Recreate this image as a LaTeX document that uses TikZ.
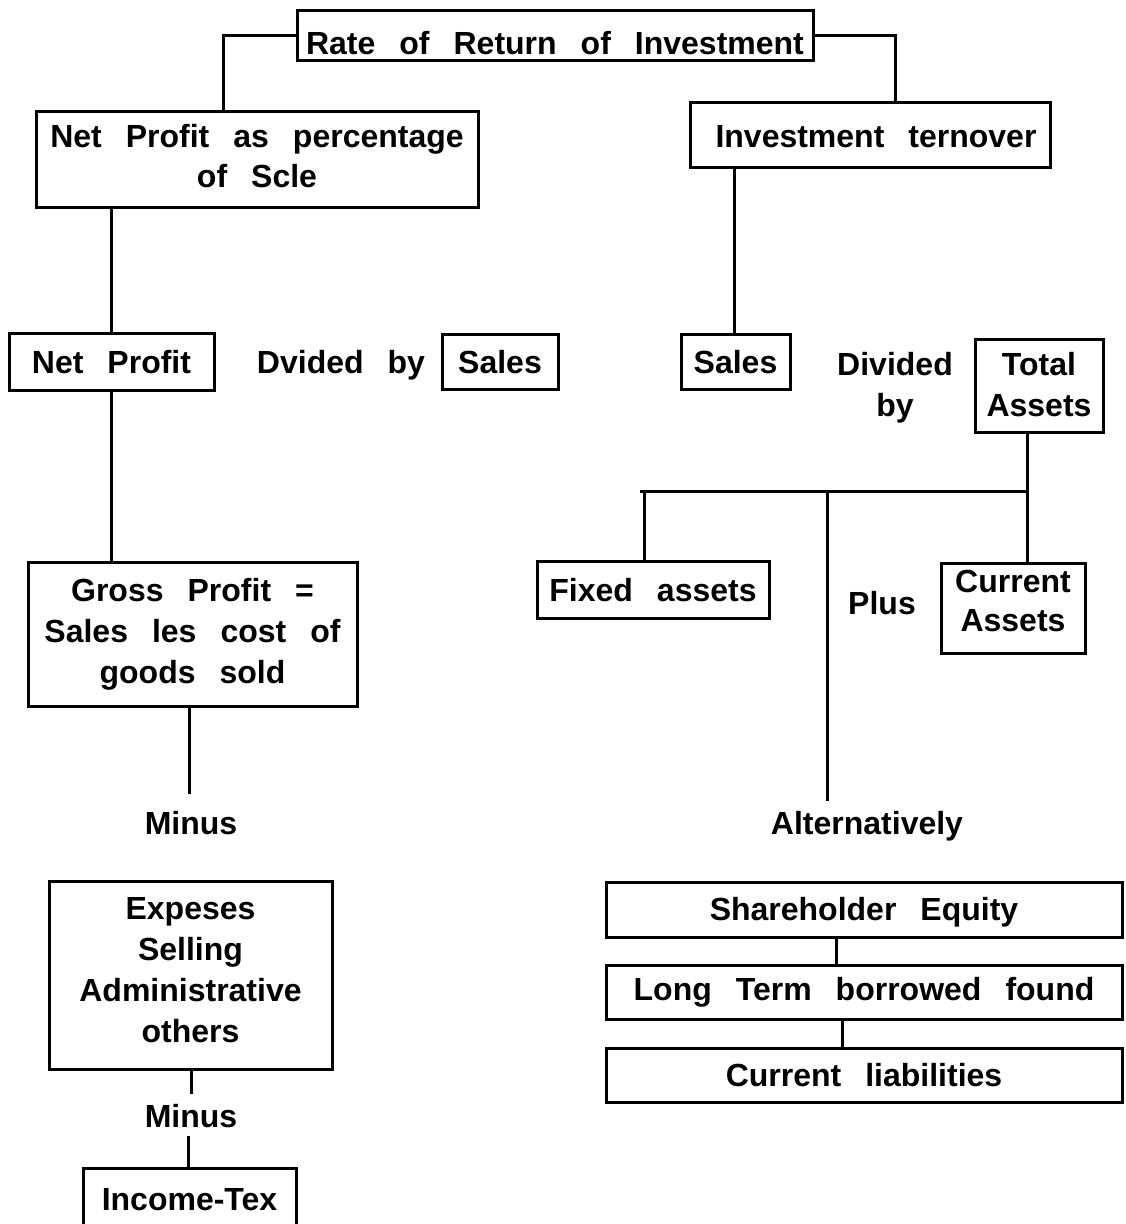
\documentclass[tikz,border=0pt]{standalone}
\usepackage{fontspec}
\setmainfont{Liberation Sans}[WordSpace=2.7]
\begin{document}
\begin{tikzpicture}[x=1pt,y=-1pt,
  every node/.style={font=\bfseries\fontsize{32}{41}\selectfont, align=center, inner sep=0pt, text depth=0pt, text height=23pt},
  box/.style={draw, line width=3pt},
  conn/.style={line width=3pt}]
\useasboundingbox (0,0) rectangle (1126,1224);
\clip (0,0) rectangle (1126,1224);
% boxes and labels
\node[box, minimum width=516, minimum height=50, text height=38pt] (top) at (555,35) {Rate of Return of Investment};
\node[box, minimum width=442, minimum height=96, text height=56pt, font=\bfseries\fontsize{32}{40}\selectfont] (npp) at (257,159) {Net Profit as percentage\\of Scle};
\node[box, minimum width=360, minimum height=65, text height=25pt] (it) at (870,134.5) {\hspace{12pt}Investment ternover};
\node[box, minimum width=205, minimum height=57] (np) at (111.5,361.5) {Net Profit};
\node (dv) at (341,362) {Dvided by};
\node[box, minimum width=116, minimum height=55] (salesl) at (500,361.5) {Sales};
\node[box, minimum width=109, minimum height=55] (salesr) at (735.5,361.5) {Sales};
\node[text height=69pt] (divby) at (895,382) {Divided\\by};
\node[box, minimum width=128, minimum height=93, text height=62pt] (ta) at (1039,385.5) {Total\\Assets};
\node[box, minimum width=232, minimum height=57] (fa) at (653,589.5) {Fixed assets};
\node (plus) at (882,603) {Plus};
\node[box, minimum width=144, minimum height=90, text height=46pt, font=\bfseries\fontsize{32}{39}\selectfont] (ca) at (1013,608) {Current\\Assets};
\node[box, minimum width=329, minimum height=144, text height=98pt] (gp) at (192.5,634) {Gross Profit =\\Sales les cost of\\goods sold};
\node (minus1) at (191,823) {Minus};
\node (alt) at (867,823) {Alternatively};
\node[box, minimum width=283, minimum height=188, text height=134pt] (ex) at (190.5,975) {Expeses\\Selling\\Administrative\\others};
\node (minus2) at (191,1116) {Minus};
\node[box, minimum width=213, minimum height=72, text height=12pt] (tax) at (189.5,1204) {Income-Tex};
\node[box, minimum width=516, minimum height=55, text height=21pt] (se) at (864,909.5) {Shareholder Equity};
\node[box, minimum width=516, minimum height=54, text height=16pt] (lt) at (864,992) {Long Term borrowed found};
\node[box, minimum width=516, minimum height=54, text height=22pt] (cl) at (864,1075) {Current liabilities};
% coordinates
\coordinate (k1) at (223,111);
\coordinate (k2) at (895,102);
\coordinate (barL) at (640,491);
\coordinate (barR) at (1027,491);
\coordinate (fTop) at (644,491);
\coordinate (mTop) at (827,491);
\coordinate (mBot) at (827,801);
\coordinate (gEnd) at (189,794);
\coordinate (e1) at (191,1094);
\coordinate (e2) at (188,1136);
\coordinate (s1) at (836,0);
\coordinate (s2) at (842,0);
% connectors
\draw[conn] (top.west) -| (k1);
\draw[conn] (top.east) -| (k2);
\draw[conn] (npp.south -| np.north) -- (np.north);
\draw[conn] (it.south -| 734,0) -- (salesr.north -| 734,0);
\draw[conn] (np.south) -- (np.south |- gp.north);
\draw[conn] (ta.south -| barR) -- (barR) -- (barL);
\draw[conn] (barR) -- (barR |- ca.north);
\draw[conn] (fTop) -- (fTop |- fa.north);
\draw[conn] (mTop) -- (mBot);
\draw[conn] (gp.south -| gEnd) -- (gEnd);
\draw[conn] (ex.south -| e1) -- (e1);
\draw[conn] (e2) -- (e2 |- tax.north);
\draw[conn] (se.south -| s1) -- (lt.north -| s1);
\draw[conn] (lt.south -| s2) -- (cl.north -| s2);
\end{tikzpicture}
\end{document}
